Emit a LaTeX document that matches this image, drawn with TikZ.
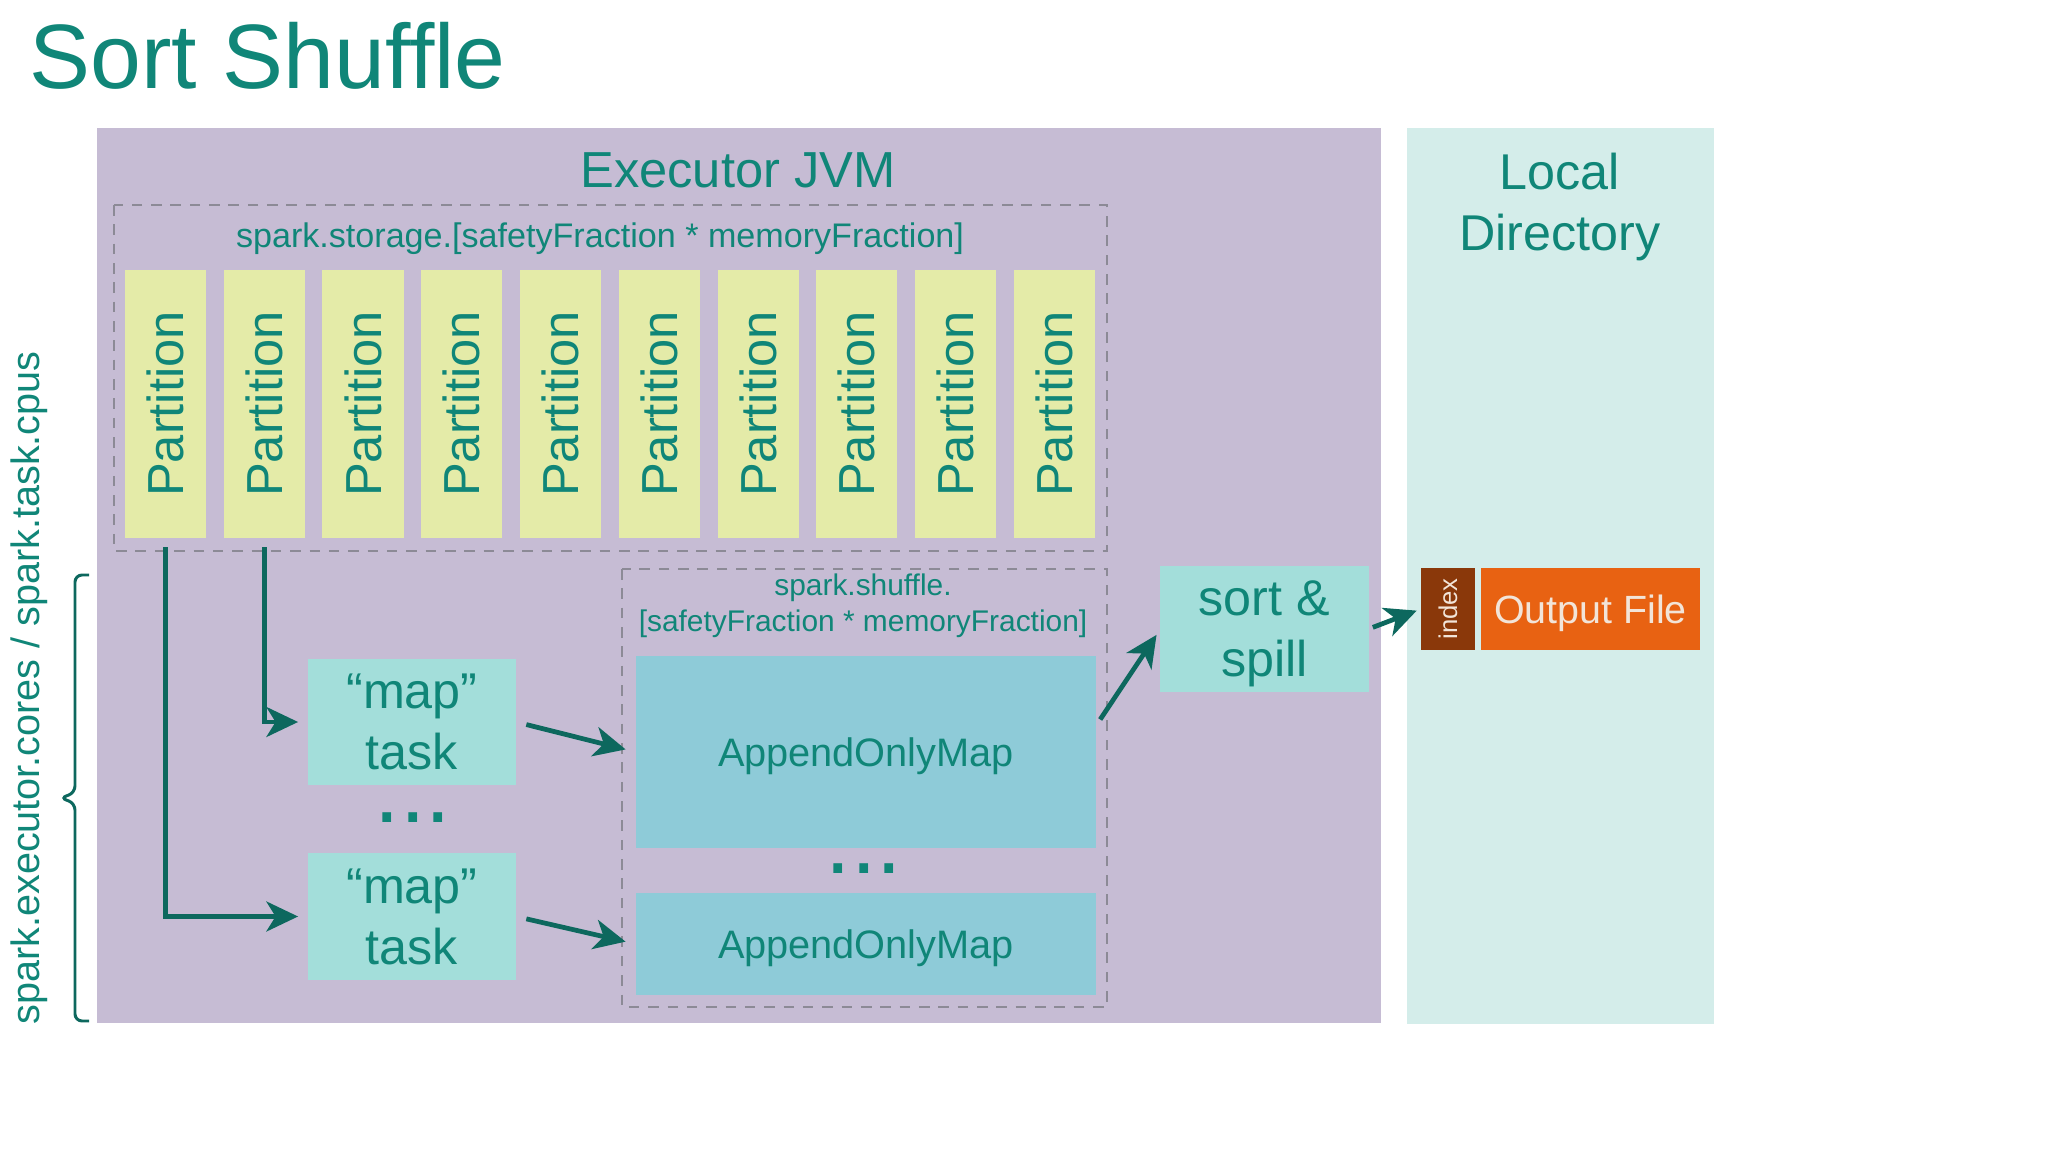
\documentclass[tikz,border=0pt]{standalone}
\usepackage{fontspec}
\setmainfont{Liberation Sans}
\usepackage{graphicx}
\usepackage{tikz}
\usetikzlibrary{positioning, calc, arrows.meta}

\definecolor{tealtext}{RGB}{16,134,120}
\definecolor{arrowteal}{RGB}{13,104,94}
\definecolor{jvmfill}{RGB}{198,188,212}
\definecolor{dirfill}{RGB}{212,237,234}
\definecolor{partfill}{RGB}{228,235,168}
\definecolor{taskfill}{RGB}{163,222,218}
\definecolor{mapfill}{RGB}{142,203,216}
\definecolor{dashgray}{RGB}{140,138,150}
\definecolor{idxfill}{RGB}{138,56,10}
\definecolor{outfill}{RGB}{232,98,18}
\definecolor{outtext}{RGB}{242,228,216}

\begin{document}
\begin{tikzpicture}[x=0.01cm, y=-0.01cm,
    txt/.style={text=tealtext, inner sep=0pt},
    box/.style={inner sep=0pt, outer sep=0pt},
    part/.style={box, fill=partfill, text=tealtext, minimum width=0.81cm, minimum height=2.68cm, font=\fontsize{14.4}{17}\selectfont},
    task/.style={box, fill=taskfill, text=tealtext, minimum width=2.08cm, minimum height=1.26cm, align=center, text depth=0pt, font=\fontsize{14.3}{17.4}\selectfont},
    amap/.style={box, fill=mapfill, text=tealtext, minimum width=4.6cm, text depth=0pt, font=\fontsize{11.3}{13}\selectfont},
    fence/.style={draw=dashgray, line width=0.6pt, dash pattern=on 3pt off 2.5pt},
    flow/.style={draw=arrowteal, line width=1.35pt, -{Stealth[length=9pt, width=8.5pt, inset=2.6pt]}},
    dots/.style={txt, font=\fontsize{26}{26}\selectfont},
    brc/.style={draw=arrowteal, line width=0.85pt, rounded corners=2pt}]
    \useasboundingbox (0,0) rectangle (2048,1152);

    \node[txt, anchor=base west, font=\fontsize{26}{30}\selectfont] (title) at (29,89) {Sort Shuffle};

    \fill[jvmfill] (97,128) rectangle (1381,1023);
    \fill[dirfill] (1407,128) rectangle (1714,1024);
    \node[txt, font=\fontsize{14.4}{17}\selectfont] (jvm) at (738,170) {Executor JVM};
    \node[txt, align=center, font=\fontsize{14.3}{17.6}\selectfont] (dir) at (1560,207) {Local\\Directory};

    \draw[fence] (114,205) rectangle (1107,551);
    \node[txt, font=\fontsize{9.7}{12}\selectfont] (stor) at (600,239) {spark.storage.[safetyFraction * memoryFraction]};
    \node[part] (P0) at (165.5,404) {\rotatebox{90}{Partition}};
    \foreach \i [count=\j] in {0,...,8}
        \node[part, right=0.177cm of P\i] (P\j) {\rotatebox{90}{Partition}};

    \draw[fence] (622,569) rectangle (1107,1007);
    \node[txt, align=center, font=\fontsize{8.5}{10.3}\selectfont] (shuf) at (863,606) {spark.shuffle.\\{}[safetyFraction * memoryFraction]};
    \node[amap, minimum height=1.91cm] (M1) at (866,752) {AppendOnlyMap};
    \node[dots] (D2) at (864,869) {...};
    \node[amap, minimum height=1.02cm] (M2) at (866,944) {AppendOnlyMap};

    \node[task] (T1) at (412,722) {“map”\\task};
    \node[dots] (D1) at (413,818) {...};
    \node[task] (T2) at (412,916.5) {“map”\\task};
    \node[task] (SS) at (1264.5,629) {sort \&\\spill};

    \node[box, fill=idxfill, text=outtext, minimum width=0.54cm, minimum height=0.81cm, font=\fontsize{7.3}{8}\selectfont] (IX) at (1448,609) {\rotatebox{90}{index}};
    \node[box, fill=outfill, text=outtext, minimum width=2.19cm, minimum height=0.82cm, text depth=0pt, font=\fontsize{11.2}{13}\selectfont, right=0.06cm of IX] (OF) {Output File};

    \draw[flow, shorten >=2.8pt] ([yshift=-2.6pt]P0.south) |- (T2.west);
    \draw[flow, shorten >=2.8pt] ([yshift=-2.6pt]P1.south) |- (T1.west);
    \draw[flow, shorten <=3pt, shorten >=3pt] (T1.east) -- (M1.west);
    \draw[flow, shorten <=3pt, shorten >=3pt] (T2.east) -- (M2.west);
    \draw[flow, shorten >=2pt] ($(M1.north east)!.33!(M1.south east)+(4,0)$) -- (SS.west);
    \draw[flow, shorten <=1.3pt, shorten >=1.3pt] (SS.east) -- (IX.west);

    \draw[brc] (89,575) -- (75,575) -- (75,793) -- (60,798) -- (75,803) -- (75,1021) -- (89,1021);
    \node[txt, rotate=90, font=\fontsize{11.25}{13}\selectfont] (cores) at (29,688) {spark.executor.cores / spark.task.cpus};
\end{tikzpicture}
\end{document}
